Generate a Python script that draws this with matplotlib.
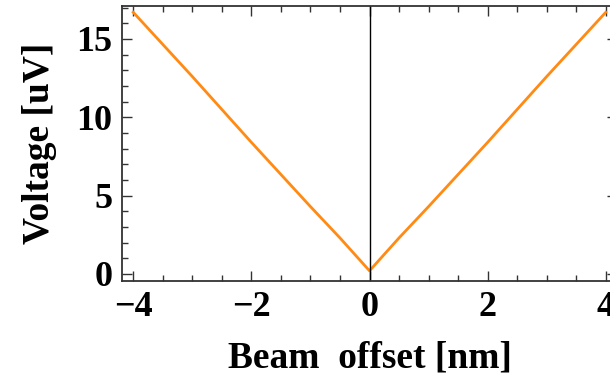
import matplotlib
matplotlib.use('Agg')
import matplotlib.pyplot as plt
from matplotlib.ticker import MultipleLocator

# values
offset_nm = [-4.0, -3.0, -2.0, -1.0, -0.5, 0.0, 0.5, 1.0, 2.0, 3.0, 4.0]
voltage_uV = [16.7, 12.6, 8.4, 4.3, 2.3, 0.2, 2.3, 4.3, 8.4, 12.6, 16.7]
x_ticks = [-4, -2, 0, 2, 4]
y_ticks = [0, 5, 10, 15]

plt.rcParams['font.family'] = ['Liberation Serif', 'DejaVu Serif']
plt.rcParams['font.weight'] = 'bold'
plt.rcParams['axes.unicode_minus'] = True

fig = plt.figure(figsize=(6.10, 3.80), dpi=100)
ax = fig.add_axes([122 / 610, 99 / 380, 495 / 610, 275 / 380])

ax.plot(offset_nm, voltage_uV, color='#ff8a14', lw=2.0, solid_joinstyle='round')
ax.axvline(0, color='black', lw=1.0)

ax.set_xlim(-4.19, 4.19)
ax.set_ylim(-0.45, 17.1)
ax.set_xticks(x_ticks)
ax.set_yticks(y_ticks)
ax.xaxis.set_minor_locator(MultipleLocator(0.5))
ax.yaxis.set_minor_locator(MultipleLocator(1))
ax.set_xticklabels([f'\u2212{abs(v)}' if v < 0 else str(v) for v in x_ticks])

ax.tick_params(which='both', direction='in', top=True, right=True,
               width=1.0, colors='#333333', labelcolor='black',
               labelsize=26)
ax.tick_params(which='major', length=7, pad=7)
ax.tick_params(which='minor', length=4)
for s in ax.spines.values():
    s.set_color('#333333')
    s.set_linewidth(1.3)

ax.set_xlabel('Beam  offset [nm]', fontsize=27, fontweight='bold', labelpad=12)
ax.set_ylabel('Voltage [uV]', fontsize=27, fontweight='bold', labelpad=14)

fig.savefig('out.png', dpi=100)
